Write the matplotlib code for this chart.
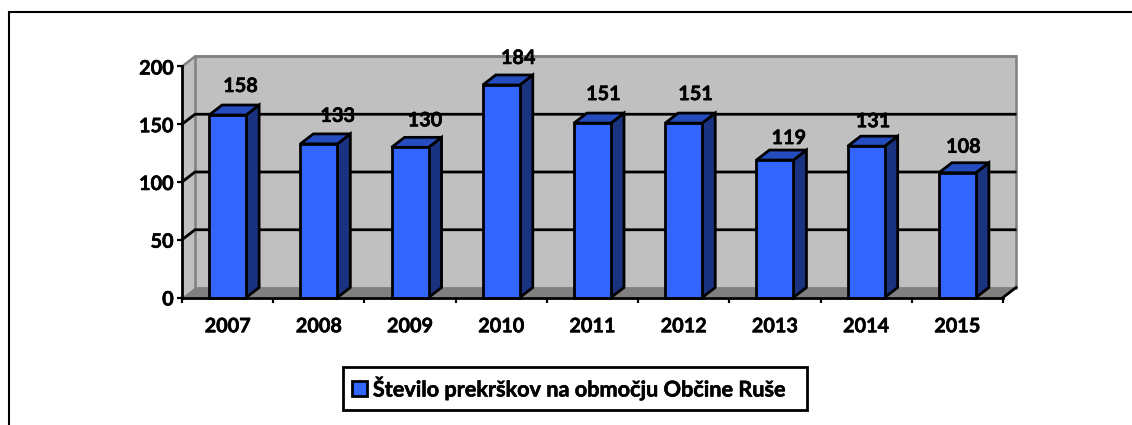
import matplotlib
matplotlib.use("Agg")
import matplotlib.pyplot as plt
import matplotlib.patheffects as pe
from matplotlib.patches import Polygon, Patch, Rectangle
from matplotlib.lines import Line2D

years = ["2007", "2008", "2009", "2010", "2011", "2012", "2013", "2014", "2015"]
values = [158, 133, 130, 184, 151, 151, 119, 131, 108]
y_ticks = [0, 50, 100, 150, 200]
series_name = "Število prekrškov na območju Občine Ruše"

# label placement relative to the top centre of each bar, in pixels
label_dx = [13, 19, 15, 17, 11, 12, 14, 7, 6]
label_dy = [29, 28, 27, 27, 29, 29, 22, 25, 26]

W, H = 1132, 425
L, R, T, B = 182, 1003, 66.5, 297.5
FS = 14.3
FS_LEG = 15.6
plt.rcParams["font.family"] = ["Lato", "DejaVu Sans"]
plt.rcParams["font.weight"] = "bold"
STROKE = [pe.withStroke(linewidth=0.4, foreground="black")]

fig = plt.figure(figsize=(W / 100, H / 100), dpi=100)
ax = fig.add_axes([L / W, 1 - B / H, (R - L) / W, (B - T) / H])
ax.set_xlim(-0.5, 8.5)
ax.set_ylim(0, 200)
ax.patch.set_visible(False)

px_x = 9 / (R - L)
px_y = 200 / (B - T)
DX = 13 * px_x
DY = 10 * px_y
x0, x1 = -0.5, 8.5
BLACK = "#000000"
WALL = "#C0C0C0"
GREY = "#808080"
LW = 2.0

def poly(pts, fc, ec="none", lw=0, z=1):
    ax.add_patch(Polygon(pts, closed=True, facecolor=fc, edgecolor=ec, linewidth=lw,
                         zorder=z, clip_on=False, joinstyle="miter"))

# walls and floor
poly([(x0, 0), (x0 + DX, DY), (x0 + DX, 200 + DY), (x0, 200)], WALL, z=1)
poly([(x0 + DX, DY), (x1 + DX, DY), (x1 + DX, 200 + DY), (x0 + DX, 200 + DY)], WALL, GREY, 1.8, z=1)
poly([(x0, 0), (x1, 0), (x1 + DX, DY), (x0 + DX, DY)], GREY, z=1.1)
ax.plot([x0, x0 + DX, x0 + DX, x1 + DX], [200, 200 + DY, 200 + DY, 200 + DY], color=GREY, lw=1.8, zorder=1.2, clip_on=False)

# gridlines on the wall with diagonals to the axis
for v in y_ticks[1:-1]:
    ax.plot([x0, x0 + DX, x1 + DX - 0.01], [v, v + DY, v + DY], color=BLACK, lw=LW,
            zorder=1.3, clip_on=False, solid_joinstyle="miter")
ax.plot([x1, x1 + DX], [0, DY], color=BLACK, lw=LW, zorder=1.3, clip_on=False)

# bars
bar_w = 37 / ((R - L) / 9)
bars = ax.bar(range(len(years)), values, width=bar_w, color="#3366FF", edgecolor=BLACK,
              linewidth=LW, zorder=3, label=series_name, clip_on=False)
for i, v in enumerate(values):
    l, r = i - bar_w / 2, i + bar_w / 2
    poly([(r, 0), (r + DX, DY), (r + DX, v + DY), (r, v)], "#1A3380", BLACK, LW, z=2.5)
    poly([(l, v), (r, v), (r + DX, v + DY), (l + DX, v + DY)], "#264DC0", BLACK, LW, z=2.5)
    ax.annotate(str(v), (i, v), xytext=(label_dx[i], label_dy[i]), textcoords="offset pixels",
                ha="center", va="center", fontsize=FS, fontweight="bold", color=BLACK, zorder=5,
                path_effects=STROKE)

# axes
for s in ("top", "right"):
    ax.spines[s].set_visible(False)
for s in ("left", "bottom"):
    ax.spines[s].set_linewidth(LW)
    ax.spines[s].set_color(BLACK)
    ax.spines[s].set_zorder(4)
ax.set_yticks(y_ticks)
ax.set_xticks(range(len(years)), years)
ax.tick_params(axis="y", length=3.5, width=1.6, pad=2.5, labelsize=FS)
ax.tick_params(axis="x", length=0, pad=13.5, labelsize=FS)
ax.set_xticks([i - 0.5 for i in range(len(years) + 1)], minor=True)
ax.tick_params(axis="x", which="minor", length=3.5, width=1.6)
for t in ax.get_xticklabels() + ax.get_yticklabels():
    t.set_path_effects(STROKE)

# legend box
fig.add_artist(Rectangle((343 / W, 1 - 410 / H), (807 - 343) / W, (410 - 367) / H, facecolor="white",
                         edgecolor=BLACK, linewidth=LW, transform=fig.transFigure, zorder=2))
handle_px = 15 / (FS_LEG * 100 / 72)
leg = fig.legend(handles=[Patch(facecolor="#3366FF", edgecolor=BLACK, linewidth=LW, label=series_name)],
                 loc="center left", bbox_to_anchor=(352 / W, 1 - 388 / H), bbox_transform=fig.transFigure,
                 frameon=False, fontsize=FS_LEG, handlelength=handle_px, handleheight=handle_px,
                 handletextpad=0.27, borderpad=0, borderaxespad=0)
leg.set_zorder(3)
for t in leg.get_texts():
    t.set_path_effects(STROKE)

# outer frame (top and left edges)
fig.add_artist(Line2D([9 / W, 9 / W, 1], [0, 1 - 12 / H, 1 - 12 / H], color=BLACK, lw=1.5,
                      transform=fig.transFigure, solid_joinstyle="miter"))

fig.savefig("out.png", dpi=100, facecolor="white")
